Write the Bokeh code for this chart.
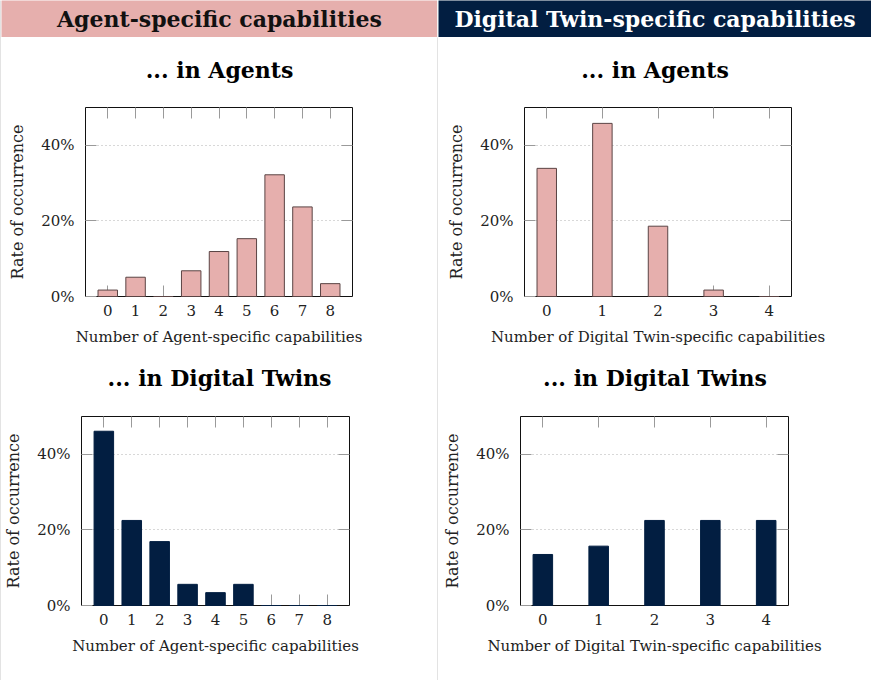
from bokeh.plotting import figure
from bokeh.layouts import row, column
from bokeh.models import Range1d, FixedTicker, LinearAxis
from bokeh.core.properties import value
from bokeh.embed import file_html
from bokeh.resources import INLINE

# ---------------- data ----------------
agent_caps = [0, 1, 2, 3, 4, 5, 6, 7, 8]
dt_caps = [0, 1, 2, 3, 4]
agents_agent_caps = [1.7, 5.1, 0.0, 6.8, 11.9, 15.3, 32.2, 23.7, 3.4]
agents_dt_caps = [33.9, 45.8, 18.6, 1.7, 0.0]
twins_agent_caps = [46.1, 22.5, 16.9, 5.6, 3.4, 5.6, 0.0, 0.0, 0.0]
twins_dt_caps = [13.5, 15.7, 22.5, 22.5, 22.5]
y_ticks = [0, 20, 40]
y_tick_labels = ["0%", "20%", "40%"]

header_left = "Agent-specific capabilities"
header_right = "Digital Twin-specific capabilities"
sub_agents = "... in Agents"
sub_twins = "... in Digital Twins"
xlabel_agent = "Number of Agent-specific capabilities"
xlabel_dt = "Number of Digital Twin-specific capabilities"
ylabel = "Rate of occurrence"

# ---------------- style ----------------
PINK = "#E6AFAD"
NAVY = "#021E41"
RULE = "#c8c8c8"
SERIF = "DejaVu Serif"
H_TOTAL = 680


def deco(w, h, color="white"):
    p = figure(width=w, height=h, output_backend="svg", toolbar_location=None,
               x_range=Range1d(0, 1), y_range=Range1d(0, 1), min_border=0,
               frame_align=False)
    p.axis.visible = False
    p.grid.visible = False
    p.outline_line_color = None
    p.background_fill_color = color
    p.border_fill_color = color
    return p


def text_fig(w, h, txt, y_from_top, size, color="black", bg="white"):
    p = figure(width=w, height=h, output_backend="svg", toolbar_location=None,
               x_range=Range1d(0, w), y_range=Range1d(0, h), min_border=0,
               frame_align=False)
    p.axis.visible = False
    p.grid.visible = False
    p.outline_line_color = None
    p.background_fill_color = bg
    p.border_fill_color = bg
    p.text(x=[w / 2], y=[h - y_from_top], text=[txt], text_align="center",
           text_baseline="middle", text_font=value(SERIF), text_font_style="bold",
           text_font_size=size, text_color=color)
    return p


def style_axis(ax, labels=True, label_size="15px"):
    ax.major_tick_in = 11
    ax.major_tick_out = 0
    ax.minor_tick_in = 0
    ax.minor_tick_out = 0
    ax.major_tick_line_color = "#9a9a9a"
    ax.major_tick_line_width = 1
    ax.axis_line_color = None
    if labels:
        ax.major_label_text_font = SERIF
        ax.major_label_text_font_size = "15px"
        ax.major_label_text_color = "#222222"
        ax.axis_label_text_font = SERIF
        ax.axis_label_text_font_size = label_size
        ax.axis_label_text_font_style = "normal"
        ax.axis_label_text_color = "#222222"
    else:
        ax.major_label_text_font_size = "0px"
        ax.major_label_standoff = 0


def bar_chart(xs, ys, color, outline, xlabel, w, h, bl, br, bt, bb, xr, bar_w):
    p = figure(width=w, height=h, output_backend="svg", toolbar_location=None,
               x_range=Range1d(*xr), y_range=Range1d(0, 50),
               min_border_left=bl, min_border_right=br,
               min_border_top=bt, min_border_bottom=bb, frame_align=False)
    r = p.vbar(x=xs, top=ys, bottom=0, width=bar_w, fill_color=color,
               line_color=outline, line_width=1)
    r.level = "annotation"
    p.outline_line_color = "#111111"
    p.outline_line_width = 1
    p.xgrid.visible = False
    p.ygrid.ticker = FixedTicker(ticks=[20, 40])
    p.ygrid.grid_line_color = "#b0b0b0"
    p.ygrid.grid_line_dash = "1 3"
    p.ygrid.grid_line_width = 1

    xb = p.xaxis[0]
    xb.ticker = FixedTicker(ticks=xs)
    xb.axis_label = xlabel
    style_axis(xb, label_size="15px")
    xb.major_label_standoff = 8
    xb.axis_label_standoff = 9

    yl = p.yaxis[0]
    yl.ticker = FixedTicker(ticks=y_ticks)
    yl.major_label_overrides = {t: l for t, l in zip(y_ticks, y_tick_labels)}
    yl.axis_label = ylabel
    style_axis(yl, label_size="16px")
    yl.major_label_standoff = 11
    yl.axis_label_standoff = 11

    top = LinearAxis(ticker=FixedTicker(ticks=xs))
    style_axis(top, labels=False)
    p.add_layout(top, "above")
    right = LinearAxis(ticker=FixedTicker(ticks=[20, 40]))
    style_axis(right, labels=False)
    p.add_layout(right, "right")
    return p


# ---------------- left column ----------------
LW = 436
left_col = column(
    text_fig(LW, 37, header_left, 18.5, "22px", color="#111111", bg=PINK),
    deco(LW, 1, "#dcdcdc"),
    text_fig(LW, 54, sub_agents, 31, "22px"),
    bar_chart(agent_caps, agents_agent_caps, PINK, "#5a4444", xlabel_agent,
              LW, 269, 84, 85, 15, 65, (-0.8, 8.8), 0.7),
    text_fig(LW, 39, sub_twins, 16, "22px"),
    bar_chart(agent_caps, twins_agent_caps, NAVY, NAVY, xlabel_agent,
              LW, 280, 80, 88, 16, 75, (-0.8, 8.8), 0.7),
)

# ---------------- right column ----------------
RW = 433
right_col = column(
    text_fig(RW, 37, header_right, 18.5, "22px", color="white", bg=NAVY),
    deco(RW, 1, "#dcdcdc"),
    text_fig(RW, 54, sub_agents, 31, "22px"),
    bar_chart(dt_caps, agents_dt_caps, PINK, "#5a4444", xlabel_dt,
              RW, 269, 86, 80, 15, 65, (-0.4, 4.4), 0.35),
    text_fig(RW, 39, sub_twins, 16, "22px"),
    bar_chart(dt_caps, twins_dt_caps, NAVY, NAVY, xlabel_dt,
              RW, 280, 82, 83, 16, 75, (-0.4, 4.4), 0.35),
)

left_rule = deco(1, H_TOTAL, RULE)
mid_rule = column(deco(1, 37, "#eeeeee"), deco(1, H_TOTAL - 37, RULE))

layout = row(left_rule, left_col, mid_rule, right_col)

open("out.html", "w").write(file_html(layout, INLINE))
